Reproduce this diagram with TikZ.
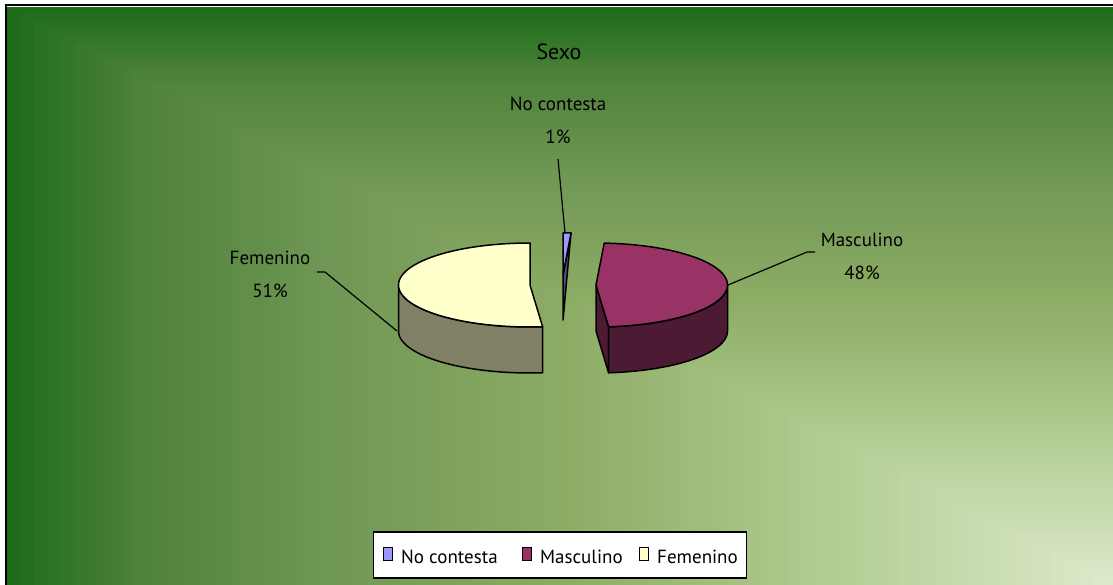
\documentclass[tikz,border=0pt]{standalone}
\usepackage{fontspec}
\setmainfont{PT Sans}
\definecolor{cA}{RGB}{28,108,25}
\definecolor{cB}{RGB}{78,130,58}
\definecolor{cC}{RGB}{110,150,84}
\definecolor{cD}{RGB}{140,172,100}
\definecolor{cE}{RGB}{180,205,148}
\definecolor{cF}{RGB}{222,234,205}
\definecolor{femTop}{RGB}{255,255,204}
\definecolor{femSide}{RGB}{128,128,102}
\definecolor{mascTop}{RGB}{153,51,102}
\definecolor{mascSide}{RGB}{77,26,51}
\definecolor{ncTop}{RGB}{153,153,255}
\definecolor{ncSide}{RGB}{77,77,128}
\tikzset{
  slice/.style={draw=black, line width=1.5pt, line join=round},
  leader/.style={draw=black, line width=1.2pt},
  lbl/.style={align=center, inner sep=0pt, font={\fontsize{19}{33}\selectfont}},
  legtext/.style={anchor=base west, inner sep=0pt, font={\fontsize{19}{23}\selectfont}},
  legsq/.style={draw=black, line width=1pt, minimum width=9pt, minimum height=13pt, inner sep=0pt},
}
\begin{document}
\begin{tikzpicture}[x=1pt,y=-1pt]
\useasboundingbox (0,0) rectangle (1113,585);
\fill[white] (0,0) rectangle (1113,585);
% background: rectangular gradient from the bottom-right corner
\foreach \i in {0,...,160}{
  \pgfmathsetmacro\t{1-\i/160}
  \ifdim\t pt>0.88pt
    \pgfmathtruncatemacro\p{(\t-0.88)/0.12*100}\colorlet{bgc}{cA!\p!cB}
  \else\ifdim\t pt>0.72pt
    \pgfmathtruncatemacro\p{(\t-0.72)/0.16*100}\colorlet{bgc}{cB!\p!cC}
  \else\ifdim\t pt>0.5pt
    \pgfmathtruncatemacro\p{(\t-0.5)/0.22*100}\colorlet{bgc}{cC!\p!cD}
  \else\ifdim\t pt>0.25pt
    \pgfmathtruncatemacro\p{(\t-0.25)/0.25*100}\colorlet{bgc}{cD!\p!cE}
  \else
    \pgfmathtruncatemacro\p{\t/0.25*100}\colorlet{bgc}{cE!\p!cF}
  \fi\fi\fi\fi
  \fill[bgc] ({1113-\t*1107},{585-\t*578}) rectangle (1113,585);
}
\draw[line width=2pt] (5.5,585) -- (5.5,5.5) -- (1113,5.5);

% title
\node[anchor=base, inner sep=0pt, font={\fontsize{22}{26}\selectfont}] (title) at (559,60) {Sexo};

% ---------- Femenino ----------
\coordinate (F) at (530,285);
\coordinate (Fb) at (530,331);
\filldraw[slice, fill=femSide]
  plot[domain=174.5:270, samples=40, variable=\a] ({530+131.5*sin(\a)},{285-42*cos(\a)})
  -- plot[domain=270:174.5, samples=40, variable=\a] ({530+131.5*sin(\a)},{331-42*cos(\a)})
  -- cycle;
\filldraw[slice, fill=femTop] (F)
  -- plot[domain=174.5:360, samples=80, variable=\a] ({530+131.5*sin(\a)},{285-42*cos(\a)})
  -- cycle;

% ---------- Masculino ----------
\coordinate (M) at (596,285);
\coordinate (Mb) at (596,331);
\coordinate (Mr) at ({596+131.5*sin(174.5)},{285-42*cos(174.5)});
\coordinate (Mrb) at ({596+131.5*sin(174.5)},{331-42*cos(174.5)});
\filldraw[slice, fill=mascSide] (M) -- (Mr) -- (Mrb) -- (Mb) -- cycle;
\filldraw[slice, fill=mascSide]
  plot[domain=90:174.5, samples=40, variable=\a] ({596+131.5*sin(\a)},{285-42*cos(\a)})
  -- plot[domain=174.5:90, samples=40, variable=\a] ({596+131.5*sin(\a)},{331-42*cos(\a)})
  -- cycle;
\filldraw[slice, fill=mascTop] (M)
  -- plot[domain=3.6:174.5, samples=80, variable=\a] ({596+131.5*sin(\a)},{285-42*cos(\a)})
  -- cycle;

% ---------- No contesta ----------
\coordinate (N0) at (563,233);
\coordinate (N1) at (571,233);
\coordinate (NC) at (563,275);
\coordinate (Nb) at (563,320);
\filldraw[slice, fill=ncSide] (N1) -- (Nb) -- (NC) -- cycle;
\filldraw[slice, fill=ncTop] (N0) -- (N1) -- (NC) -- cycle;

% ---------- labels and leaders ----------
\node[lbl] (lnc) at (558,120) {No contesta\\1\%};
\node[lbl] (lfem) at (270,274) {Femenino\\51\%};
\node[lbl] (lmasc) at (862,256) {Masculino\\48\%};

\coordinate (lncEnd) at (558,159);
\coordinate (ncP) at (565,233);
\draw[leader] (lncEnd) -- (ncP);

\coordinate (femEnd) at (317,272);
\coordinate (femP) at (397,331);
\draw[leader] (femEnd) -- ++(8,0) -- (femP);

\coordinate (mascEnd) at (815,252);
\coordinate (mascP) at (728,285);
\draw[leader] (mascEnd) -- ++(-8,0) -- (mascP);

% ---------- legend ----------
\node[draw=black, fill=white, line width=1.3pt, minimum width=373pt, minimum height=46pt, inner sep=0pt] (legend) at (560,555) {};
\node[legsq, fill=ncTop] (sq1) at (387.5,553.5) {};
\node[legtext] (t1) at (401,563) {No contesta};
\node[legsq, fill=mascTop] (sq2) at (527,553.5) {};
\node[legtext] (t2) at (540,563) {Masculino};
\node[legsq, fill=femTop] (sq3) at (644,553.5) {};
\node[legtext] (t3) at (657,563) {Femenino};
\end{tikzpicture}
\end{document}
